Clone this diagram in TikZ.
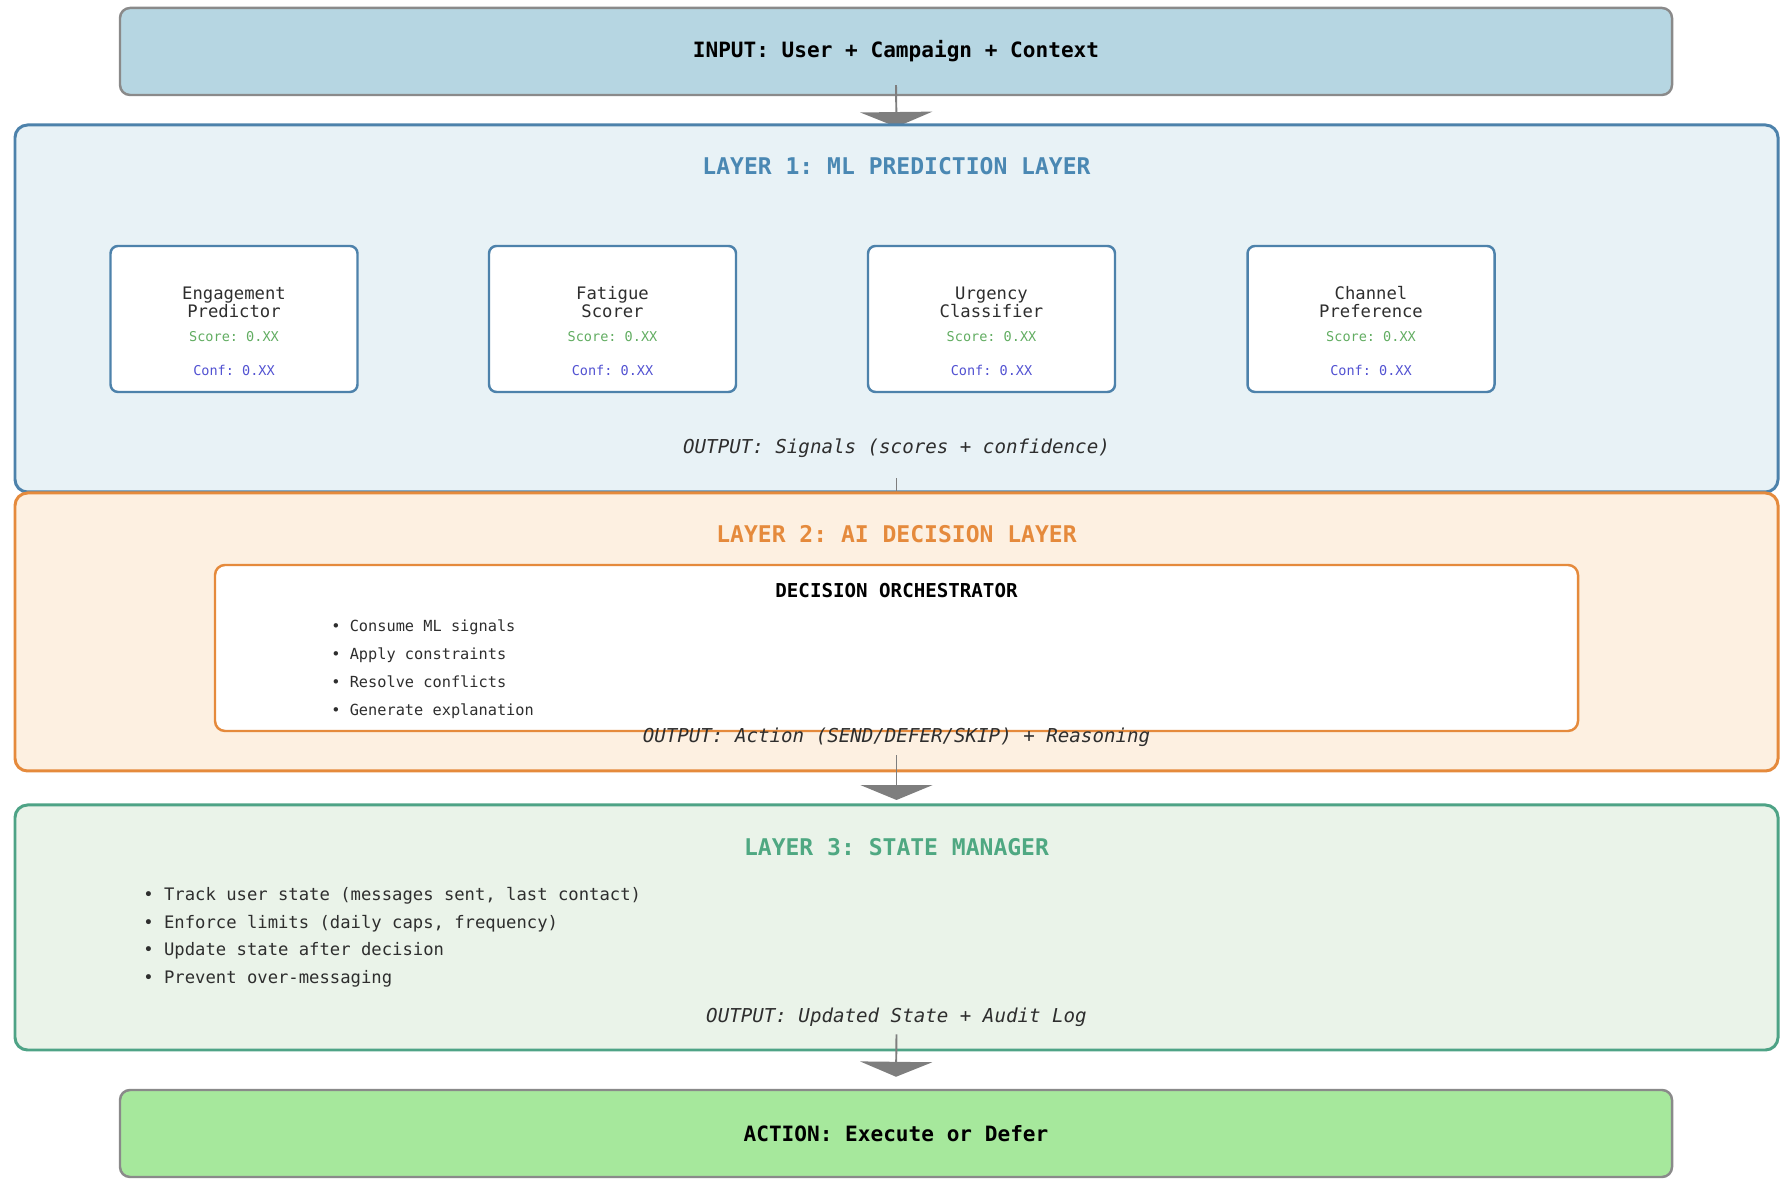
\documentclass[tikz,border=0pt]{standalone}
\usepackage{fontspec}
\setmainfont{DejaVu Sans Mono}
\usetikzlibrary{arrows.meta}
\frenchspacing

\definecolor{inpfill}{HTML}{B6D6E2}
\definecolor{boxgray}{HTML}{8A8A8A}
\definecolor{mlfill}{HTML}{E8F2F6}
\definecolor{mlline}{HTML}{4D82AB}
\definecolor{mltext}{HTML}{4A88B3}
\definecolor{aifill}{HTML}{FDF0E1}
\definecolor{ailine}{HTML}{E58A3C}
\definecolor{smfill}{HTML}{EAF3E9}
\definecolor{smline}{HTML}{4EA386}
\definecolor{smtext}{HTML}{4FA882}
\definecolor{actfill}{HTML}{A6E89C}
\definecolor{scoregreen}{HTML}{62AD62}
\definecolor{confblue}{HTML}{5252D2}
\definecolor{bodytext}{HTML}{2E2E2E}
\definecolor{flowgray}{HTML}{7E7E7E}

\tikzset{
	endbox/.style = {draw=boxgray, line width=1.4pt, rounded corners=0.2cm,
		minimum width=31.04cm, minimum height=1.74cm, inner sep=0pt,
		font=\fontsize{12}{14}\selectfont\bfseries, text=black},
	layer/.style = {line width=1.7pt, rounded corners=0.25cm,
		minimum width=35.26cm, inner sep=0pt},
	layertitle/.style = {font=\fontsize{13.1}{15}\selectfont\bfseries},
	model/.style = {draw=mlline, fill=white, line width=1.4pt, rounded corners=0.15cm,
		minimum width=4.94cm, minimum height=2.92cm, inner sep=0pt},
	modelname/.style = {align=center, text=bodytext, font=\fontsize{9.8}{10.2}\selectfont},
	score/.style = {text=scoregreen, font=\fontsize{7.7}{9}\selectfont},
	conf/.style = {text=confblue, font=\fontsize{7.7}{9}\selectfont},
	outtext/.style = {text=bodytext, font=\fontsize{10.9}{12}\selectfont\itshape},
	bullets/.style = {align=left, anchor=west, text=bodytext, inner sep=0pt},
	flow/.style = {draw=flowgray, line width=1.1pt,
		-{Triangle[width=41pt, length=8.5pt]}, flowgray}
}

\begin{document}
\begin{tikzpicture}
\useasboundingbox (0, 0) rectangle (35.6, 23.62);

% input
\node[endbox, fill=inpfill] (inp) at (17.92, 22.59) {INPUT: User + Campaign + Context};
\draw[flow] ([yshift=2.2mm]inp.south) -- (17.93, 21.08);

% layer 1
\node[layer, draw=mlline, fill=mlfill, minimum height=7.34cm] (lay1) at (17.93, 17.45) {};
\node[layertitle, text=mltext] (title1) at (17.93, 20.30) {LAYER 1: ML PREDICTION LAYER};

\node[model] (eng) at (4.68, 17.24) {};
\node[modelname] (engname) at ([yshift=3.4mm]eng.center) {Engagement\\Predictor};
\node[score] (engscore) at ([yshift=-3.6mm]eng.center) {Score: 0.XX};
\node[conf] (engconf) at ([yshift=-10.2mm]eng.center) {Conf: 0.XX};

\node[model] (fat) at (12.25, 17.24) {};
\node[modelname] (fatname) at ([yshift=3.4mm]fat.center) {Fatigue\\Scorer};
\node[score] (fatscore) at ([yshift=-3.6mm]fat.center) {Score: 0.XX};
\node[conf] (fatconf) at ([yshift=-10.2mm]fat.center) {Conf: 0.XX};

\node[model] (urg) at (19.83, 17.24) {};
\node[modelname] (urgname) at ([yshift=3.4mm]urg.center) {Urgency\\Classifier};
\node[score] (urgscore) at ([yshift=-3.6mm]urg.center) {Score: 0.XX};
\node[conf] (urgconf) at ([yshift=-10.2mm]urg.center) {Conf: 0.XX};

\node[model] (chan) at (27.42, 17.24) {};
\node[modelname] (channame) at ([yshift=3.4mm]chan.center) {Channel\\Preference};
\node[score] (chanscore) at ([yshift=-3.6mm]chan.center) {Score: 0.XX};
\node[conf] (chanconf) at ([yshift=-10.2mm]chan.center) {Conf: 0.XX};

\node[outtext] (out1) at (17.93, 14.66) {OUTPUT: Signals (scores + confidence)};
\draw[flow] ([yshift=3mm]lay1.south) -- (17.93, 13.41);

% layer 2
\node[layer, draw=ailine, fill=aifill, minimum height=5.56cm] (lay2) at (17.93, 10.98) {};
\node[layertitle, text=ailine] (title2) at (17.93, 12.94) {LAYER 2: AI DECISION LAYER};

\node[draw=ailine, fill=white, line width=1.4pt, rounded corners=0.2cm,
	minimum width=27.26cm, minimum height=3.32cm, inner sep=0pt] (orch) at (17.93, 10.66) {};
\node[font=\fontsize{10.9}{12}\selectfont\bfseries, text=black] (orchtitle) at (17.93, 11.80) {DECISION ORCHESTRATOR};
\node[bullets, font=\fontsize{8.7}{15.9}\selectfont] (orchlist) at (6.62, 10.235) {%
	• Consume ML signals\\
	• Apply constraints\\
	• Resolve conflicts\\
	• Generate explanation};

\node[outtext] (out2) at (17.93, 8.87) {OUTPUT: Action (SEND/DEFER/SKIP) + Reasoning};
\draw[flow] ([yshift=3.4mm]lay2.south) -- ([yshift=1mm]17.93, 7.52);

% layer 3
\node[layer, draw=smline, fill=smfill, minimum height=4.90cm] (lay3) at (17.93, 5.07) {};
\node[layertitle, text=smtext] (title3) at (17.93, 6.68) {LAYER 3: STATE MANAGER};
\node[bullets, font=\fontsize{9.8}{15.9}\selectfont] (statelist) at (2.86, 4.875) {%
	• Track user state (messages sent, last contact)\\
	• Enforce limits (daily caps, frequency)\\
	• Update state after decision\\
	• Prevent over-messaging};

\node[outtext] (out3) at (17.93, 3.28) {OUTPUT: Updated State + Audit Log};

% action
\node[endbox, fill=actfill] (act) at (17.92, 0.95) {ACTION: Execute or Defer};
\draw[flow] ([yshift=3.4mm]lay3.south) -- ([yshift=2.4mm]act.north);
\end{tikzpicture}
\end{document}
